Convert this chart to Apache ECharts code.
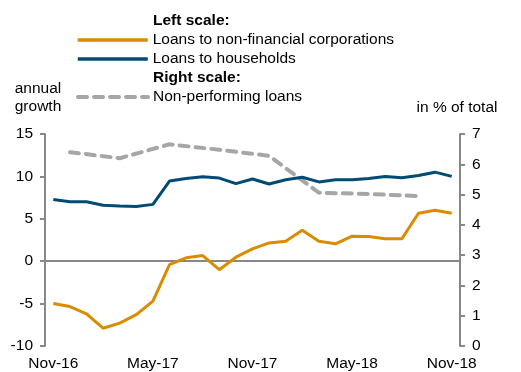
<!DOCTYPE html>
<html>
<head>
<meta charset="utf-8">
<script src="https://cdn.jsdelivr.net/npm/echarts@6.0.0/dist/echarts.min.js"></script>
<style>
  html, body { margin: 0; padding: 0; background: #fff; }
  #chart { width: 521px; height: 372px; }
</style>
</head>
<body>
<div id="chart"></div>
<script>
// Months Nov-16 .. Nov-18
const months = [
    'Nov-16', 'Dec-16', 'Jan-17', 'Feb-17', 'Mar-17', 'Apr-17', 'May-17', 'Jun-17', 'Jul-17', 'Aug-17', 'Sep-17', 'Oct-17',
    'Nov-17', 'Dec-17', 'Jan-18', 'Feb-18', 'Mar-18', 'Apr-18', 'May-18', 'Jun-18', 'Jul-18', 'Aug-18', 'Sep-18', 'Oct-18',
    'Nov-18'
];

// Left scale, annual growth (%)
const corporateLoans = [
    -5.0, -5.35, -6.2, -7.9, -7.3, -6.3, -4.7, -0.4, 0.4, 0.67, -1.0, 0.47,
    1.45, 2.16, 2.36, 3.66, 2.36, 2.05, 2.95, 2.9, 2.65, 2.65, 5.66, 6.0,
    5.66
];
const householdLoans = [
    7.27, 7.0, 7.0, 6.6, 6.5, 6.45, 6.7, 9.45, 9.75, 9.95, 9.8, 9.15,
    9.7, 9.1, 9.6, 9.9, 9.35, 9.6, 9.6, 9.75, 10.0, 9.85, 10.1, 10.5,
    10.0
];

// Right scale, % of total (quarterly)
const nplRatio = [
    null, 6.4, null, null, 6.2, null, null, 6.66, null, null, 6.48, null,
    null, 6.28, null, null, 5.06, null, null, 5.02, null, null, 4.95, null,
    null
];

const orange = '#DB8B00';
const blue = '#004B73';
const grey = '#A6A6A6';
const axisGrey = '#888888';
const font = '"Liberation Sans", Arial, sans-serif';
const fs = 15.5;

const chart = echarts.init(document.getElementById('chart'));

const legendBase = {
    orient: 'vertical',
    left: 71,
    itemWidth: 70,
    itemHeight: 14,
    itemGap: 3,
    itemStyle: { opacity: 0 },
    textStyle: { fontSize: fs, color: '#000', fontFamily: font }
};

const option = {
    backgroundColor: '#fff',
    animation: false,
    textStyle: { fontFamily: font },
    grid: { left: 45, right: 61, top: 134, bottom: 26, containLabel: false },
    graphic: [
        { type: 'text', left: 153, top: 13, style: { text: 'Left scale:', font: 'bold ' + fs + 'px ' + font, fill: '#000' } },
        { type: 'text', left: 153, top: 70, style: { text: 'Right scale:', font: 'bold ' + fs + 'px ' + font, fill: '#000' } }
    ],
    legend: [
        Object.assign({}, legendBase, {
            data: [
                { name: 'Loans to non-financial corporations', lineStyle: { width: 3.5 } },
                { name: 'Loans to households', lineStyle: { width: 3.5 } }
            ],
            top: 27
        }),
        Object.assign({}, legendBase, {
            data: [
                { name: 'Non-performing loans', lineStyle: { width: 4, type: [9, 7], cap: 'round' } }
            ],
            top: 84
        })
    ],
    xAxis: {
        type: 'category',
        data: months,
        boundaryGap: true,
        axisLine: { show: false, onZero: false },
        axisTick: { show: false },
        axisLabel: { interval: 5, margin: 10, fontSize: fs, color: '#000', fontFamily: font }
    },
    yAxis: [
        {
            type: 'value',
            min: -10,
            max: 15,
            interval: 5,
            name: 'annual\ngrowth',
            nameLocation: 'end',
            nameGap: 18,
            nameTextStyle: { fontSize: fs, color: '#000', align: 'center', padding: [0, 14, 0, 0], lineHeight: 18 },
            splitLine: { show: false },
            axisLine: { show: true, lineStyle: { color: axisGrey, width: 2 } },
            axisTick: { show: true, length: 5, lineStyle: { color: axisGrey, width: 2 } },
            axisLabel: { margin: 12, fontSize: fs, color: '#000' }
        },
        {
            type: 'value',
            min: 0,
            max: 7,
            interval: 1,
            position: 'right',
            name: 'in % of total',
            nameLocation: 'end',
            nameGap: 18,
            nameTextStyle: { fontSize: fs, color: '#000', align: 'center', padding: [0, 6, 0, 0] },
            splitLine: { show: false },
            axisLine: { show: true, lineStyle: { color: axisGrey, width: 2 } },
            axisTick: { show: true, length: 5, lineStyle: { color: axisGrey, width: 2 } },
            axisLabel: { margin: 12, fontSize: fs, color: '#000' }
        }
    ],
    series: [
        {
            name: 'Loans to non-financial corporations',
            type: 'line',
            yAxisIndex: 0,
            data: corporateLoans,
            symbol: 'none',
            color: orange,
            lineStyle: { color: orange, width: 3 },
            z: 3,
            markLine: {
                silent: true,
                symbol: 'none',
                label: { show: false },
                lineStyle: { color: axisGrey, width: 2, type: 'solid' },
                data: [{ yAxis: 0 }],
                z: 1
            }
        },
        {
            name: 'Loans to households',
            type: 'line',
            yAxisIndex: 0,
            data: householdLoans,
            symbol: 'none',
            color: blue,
            lineStyle: { color: blue, width: 3 },
            z: 3
        },
        {
            name: 'Non-performing loans',
            type: 'line',
            yAxisIndex: 1,
            data: nplRatio,
            connectNulls: true,
            symbol: 'none',
            color: grey,
            lineStyle: { color: grey, width: 4, type: [9, 7], cap: 'round' },
            z: 2
        }
    ]
};

chart.setOption(option);
</script>
</body>
</html>
